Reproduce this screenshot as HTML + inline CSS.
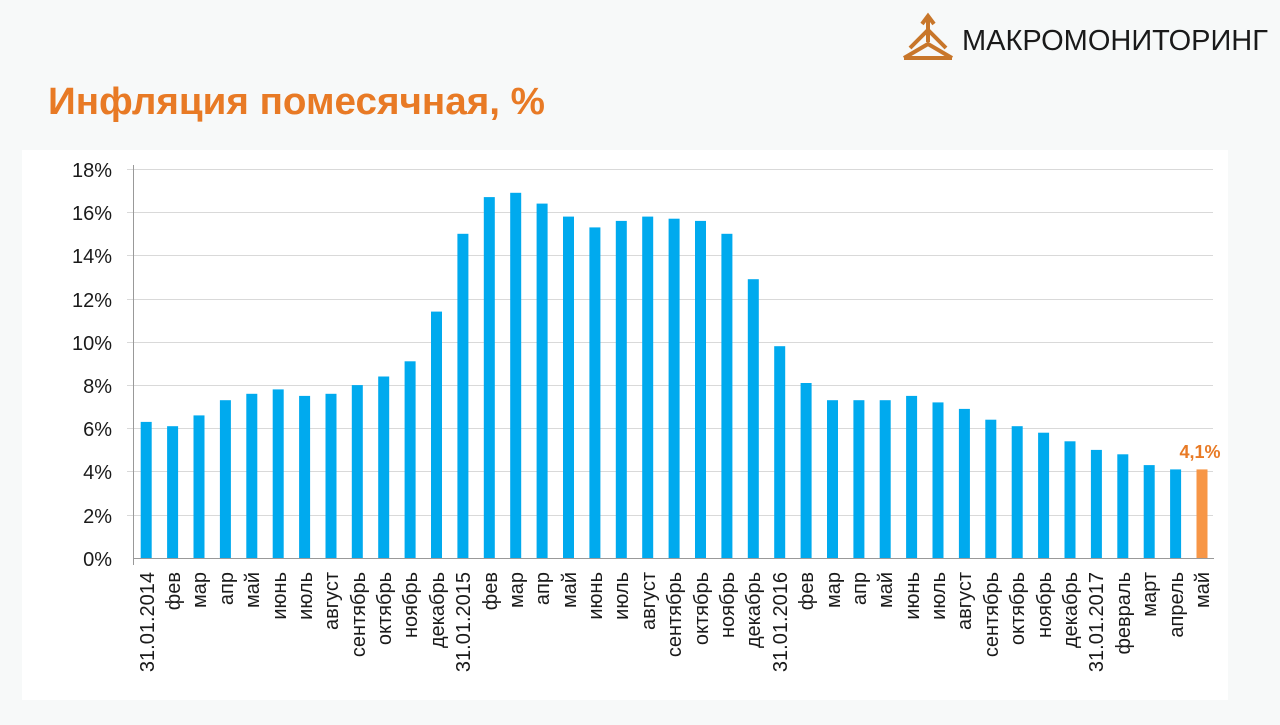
<!DOCTYPE html>
<html><head><meta charset="utf-8"><style>
body{margin:0;width:1280px;height:720px;background:#f7f9f9;overflow:hidden;font-family:"Liberation Sans","DejaVu Sans",sans-serif}
</style></head><body>
<svg width="1280" height="720" xmlns="http://www.w3.org/2000/svg" font-family="'Liberation Sans','DejaVu Sans',sans-serif">
<rect width="1280" height="720" fill="#f7f9f9"/>
<g fill="none" stroke="#c8762a" stroke-width="4">
<path d="M928 18 L928 42 M922 24 L928 16 L934 24"/>
<path d="M904 58 L928 44 L952 58"/>
<path d="M910 48 L928 30 L946 48"/>
<path d="M904 58 L952 58"/>
</g>
<text x="962" y="50" font-size="29" fill="#1a1a1a">МАКРОМОНИТОРИНГ</text>
<text x="48" y="114" font-size="38" font-weight="bold" fill="#e87a25" textLength="497" lengthAdjust="spacingAndGlyphs">Инфляция помесячная, %</text>
<rect x="22" y="150" width="1206" height="550" fill="#ffffff"/>
<g stroke="#d9d9d9" stroke-width="1">
<line x1="127" y1="169.5" x2="1213" y2="169.5"/><line x1="127" y1="212.5" x2="1213" y2="212.5"/>
<line x1="127" y1="255.5" x2="1213" y2="255.5"/><line x1="127" y1="299.5" x2="1213" y2="299.5"/>
<line x1="127" y1="342.5" x2="1213" y2="342.5"/><line x1="127" y1="385.5" x2="1213" y2="385.5"/>
<line x1="127" y1="428.5" x2="1213" y2="428.5"/><line x1="127" y1="471.5" x2="1213" y2="471.5"/>
<line x1="127" y1="515.5" x2="1213" y2="515.5"/>
</g>
<g font-size="20" fill="#1a1a1a" text-anchor="end">
<text x="112" y="177">18%</text><text x="112" y="220">16%</text><text x="112" y="263">14%</text>
<text x="112" y="307">12%</text><text x="112" y="350">10%</text><text x="112" y="393">8%</text>
<text x="112" y="436">6%</text><text x="112" y="479">4%</text><text x="112" y="523">2%</text><text x="112" y="566">0%</text>
</g>
<g transform="translate(0,558) scale(1,-1)" fill="#00aaee">
<rect x="140.7" y="0" width="11" height="136.1"/><rect x="167.1" y="0" width="11" height="131.8"/>
<rect x="193.5" y="0" width="11" height="142.6"/><rect x="219.9" y="0" width="11" height="157.8"/>
<rect x="246.3" y="0" width="11" height="164.2"/><rect x="272.7" y="0" width="11" height="168.6"/>
<rect x="299.1" y="0" width="11" height="162.1"/><rect x="325.5" y="0" width="11" height="164.2"/>
<rect x="351.8" y="0" width="11" height="172.9"/><rect x="378.2" y="0" width="11" height="181.5"/>
<rect x="404.6" y="0" width="11" height="196.7"/><rect x="431.0" y="0" width="11" height="246.4"/>
<rect x="457.4" y="0" width="11" height="324.2"/><rect x="483.8" y="0" width="11" height="360.9"/>
<rect x="510.2" y="0" width="11" height="365.2"/><rect x="536.6" y="0" width="11" height="354.4"/>
<rect x="563.0" y="0" width="11" height="341.4"/><rect x="589.4" y="0" width="11" height="330.6"/>
<rect x="615.8" y="0" width="11" height="337.1"/><rect x="642.2" y="0" width="11" height="341.4"/>
<rect x="668.6" y="0" width="11" height="339.3"/><rect x="695.0" y="0" width="11" height="337.1"/>
<rect x="721.4" y="0" width="11" height="324.2"/><rect x="747.8" y="0" width="11" height="278.8"/>
<rect x="774.2" y="0" width="11" height="211.8"/><rect x="800.6" y="0" width="11" height="175.0"/>
<rect x="827.0" y="0" width="11" height="157.8"/><rect x="853.4" y="0" width="11" height="157.8"/>
<rect x="879.7" y="0" width="11" height="157.8"/><rect x="906.1" y="0" width="11" height="162.1"/>
<rect x="932.5" y="0" width="11" height="155.6"/><rect x="958.9" y="0" width="11" height="149.1"/>
<rect x="985.3" y="0" width="11" height="138.3"/><rect x="1011.7" y="0" width="11" height="131.8"/>
<rect x="1038.1" y="0" width="11" height="125.3"/><rect x="1064.5" y="0" width="11" height="116.7"/>
<rect x="1090.9" y="0" width="11" height="108.1"/><rect x="1117.3" y="0" width="11" height="103.7"/>
<rect x="1143.7" y="0" width="11" height="92.9"/><rect x="1170.1" y="0" width="11" height="88.6"/>
<rect x="1196.5" y="0" width="11" height="88.6" fill="#f79646"/>
</g>
<text x="1200" y="458" font-size="18" font-weight="bold" fill="#e87a25" text-anchor="middle">4,1%</text>
<g stroke="#999" stroke-width="1">
<line x1="133.5" y1="165" x2="133.5" y2="565"/><line x1="133" y1="558.5" x2="1214" y2="558.5"/>
</g>
<g font-size="20" fill="#1a1a1a" text-anchor="end">
<text transform="translate(154,572) rotate(-90)">31.01.2014</text>
<text transform="translate(180,572) rotate(-90)">фев</text>
<text transform="translate(206,572) rotate(-90)">мар</text>
<text transform="translate(233,572) rotate(-90)">апр</text>
<text transform="translate(259,572) rotate(-90)">май</text>
<text transform="translate(286,572) rotate(-90)">июнь</text>
<text transform="translate(312,572) rotate(-90)">июль</text>
<text transform="translate(338,572) rotate(-90)">август</text>
<text transform="translate(365,572) rotate(-90)">сентябрь</text>
<text transform="translate(391,572) rotate(-90)">октябрь</text>
<text transform="translate(417,572) rotate(-90)">ноябрь</text>
<text transform="translate(444,572) rotate(-90)">декабрь</text>
<text transform="translate(470,572) rotate(-90)">31.01.2015</text>
<text transform="translate(497,572) rotate(-90)">фев</text>
<text transform="translate(523,572) rotate(-90)">мар</text>
<text transform="translate(549,572) rotate(-90)">апр</text>
<text transform="translate(576,572) rotate(-90)">май</text>
<text transform="translate(602,572) rotate(-90)">июнь</text>
<text transform="translate(628,572) rotate(-90)">июль</text>
<text transform="translate(655,572) rotate(-90)">август</text>
<text transform="translate(681,572) rotate(-90)">сентябрь</text>
<text transform="translate(708,572) rotate(-90)">октябрь</text>
<text transform="translate(734,572) rotate(-90)">ноябрь</text>
<text transform="translate(760,572) rotate(-90)">декабрь</text>
<text transform="translate(787,572) rotate(-90)">31.01.2016</text>
<text transform="translate(813,572) rotate(-90)">фев</text>
<text transform="translate(840,572) rotate(-90)">мар</text>
<text transform="translate(866,572) rotate(-90)">апр</text>
<text transform="translate(892,572) rotate(-90)">май</text>
<text transform="translate(919,572) rotate(-90)">июнь</text>
<text transform="translate(945,572) rotate(-90)">июль</text>
<text transform="translate(971,572) rotate(-90)">август</text>
<text transform="translate(998,572) rotate(-90)">сентябрь</text>
<text transform="translate(1024,572) rotate(-90)">октябрь</text>
<text transform="translate(1051,572) rotate(-90)">ноябрь</text>
<text transform="translate(1077,572) rotate(-90)">декабрь</text>
<text transform="translate(1103,572) rotate(-90)">31.01.2017</text>
<text transform="translate(1130,572) rotate(-90)">февраль</text>
<text transform="translate(1156,572) rotate(-90)">март</text>
<text transform="translate(1183,572) rotate(-90)">апрель</text>
<text transform="translate(1209,572) rotate(-90)">май</text>
</g>
</svg>
</body></html>
